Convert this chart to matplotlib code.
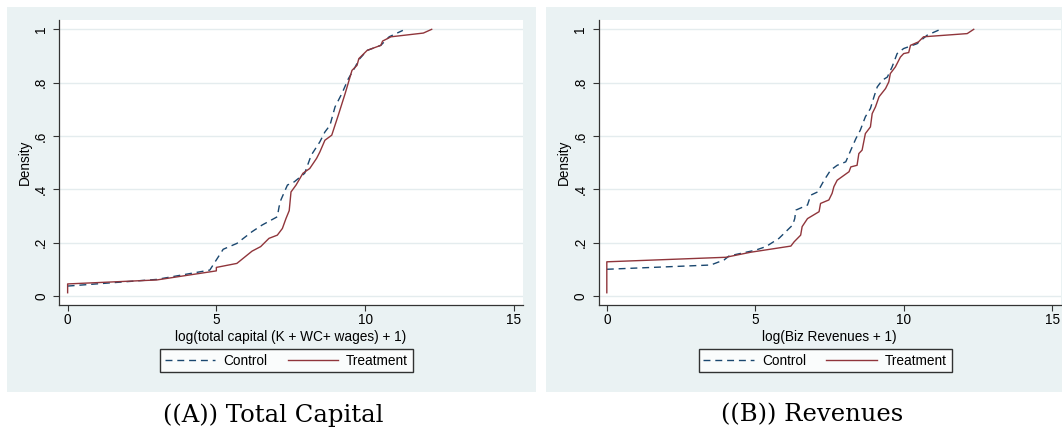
import numpy as np
import matplotlib.pyplot as plt
from matplotlib.patches import Rectangle

plt.rcParams['font.family'] = ['Liberation Sans', 'DejaVu Sans']

# panel A: total capital (cdf points)
capital_control_x = [0, 3.0, 4.78, 5.23, 5.69, 6.2, 6.54, 7.05, 7.11, 7.17, 7.39, 7.62, 7.97, 8.19,
                     8.48, 8.65, 8.82, 8.99, 9.22, 9.44, 9.67, 9.79, 10.07, 10.53, 10.81, 11.27]
capital_control_y = [0.037, 0.062, 0.097, 0.175, 0.197, 0.241, 0.266, 0.297, 0.335, 0.36, 0.416, 0.428,
                     0.46, 0.528, 0.578, 0.615, 0.64, 0.709, 0.759, 0.815, 0.859, 0.886, 0.921, 0.94,
                     0.972, 0.996]
capital_treat_x = [0, 0, 3.0, 5.0, 5.0, 5.69, 6.2, 6.49, 6.77, 7.05, 7.22, 7.34, 7.45, 7.51, 7.68, 7.91,
                   8.14, 8.37, 8.48, 8.65, 8.88, 9.1, 9.33, 9.56, 9.73, 9.79, 10.07, 10.53, 10.59, 10.87,
                   11.96, 12.24]
capital_treat_y = [0.012, 0.045, 0.06, 0.094, 0.107, 0.122, 0.168, 0.185, 0.216, 0.228, 0.253, 0.29,
                   0.32, 0.39, 0.416, 0.46, 0.478, 0.516, 0.54, 0.584, 0.603, 0.678, 0.759, 0.846,
                   0.865, 0.89, 0.921, 0.94, 0.956, 0.972, 0.986, 1.0]

# panel B: revenues
revenue_control_x = [0, 3.5, 3.95, 4.12, 5.02, 5.36, 5.8, 6.26, 6.33, 6.37, 6.76, 6.87, 7.1, 7.32, 7.54,
                     7.76, 8.05, 8.22, 8.39, 8.54, 8.71, 8.88, 9.0, 9.11, 9.28, 9.45, 9.61, 9.78, 10.0,
                     10.45, 10.79, 11.24]
revenue_control_y = [0.1, 0.116, 0.135, 0.15, 0.172, 0.185, 0.216, 0.266, 0.29, 0.322, 0.341, 0.378,
                     0.39, 0.434, 0.472, 0.49, 0.503, 0.547, 0.59, 0.622, 0.672, 0.703, 0.747, 0.784,
                     0.809, 0.821, 0.859, 0.909, 0.928, 0.946, 0.978, 1.0]
revenue_treat_x = [0, 0, 4.01, 4.85, 6.2, 6.31, 6.53, 6.58, 6.76, 7.15, 7.2, 7.48, 7.59, 7.65, 7.76,
                   8.16, 8.22, 8.43, 8.49, 8.6, 8.71, 8.88, 8.94, 9.05, 9.17, 9.39, 9.5, 9.55, 9.72,
                   9.89, 10.0, 10.17, 10.23, 10.5, 10.67, 12.14, 12.36]
revenue_treat_y = [0.012, 0.128, 0.145, 0.164, 0.187, 0.203, 0.228, 0.26, 0.29, 0.316, 0.347, 0.36,
                   0.385, 0.41, 0.434, 0.466, 0.484, 0.49, 0.534, 0.547, 0.609, 0.634, 0.684, 0.709,
                   0.747, 0.778, 0.803, 0.834, 0.859, 0.896, 0.909, 0.913, 0.94, 0.953, 0.972, 0.984,
                   1.0]

x_ticks = [0, 5, 10, 15]
y_ticks = [0, 0.2, 0.4, 0.6, 0.8, 1.0]
y_tick_labels = ['0', '.2', '.4', '.6', '.8', '1']
x_labels = ['log(total capital (K + WC+ wages) + 1)', 'log(Biz Revenues + 1)']
captions = ['((A)) Total Capital', '((B)) Revenues']

NAVY = '#1a476f'
MAROON = '#90353b'
BG = '#eaf2f3'
GRID = '#e4ecee'

W, H = 1062, 434
fig = plt.figure(figsize=(W / 100, H / 100), dpi=100)
fig.patch.set_facecolor('white')

# gray stata graph regions (pixel boxes -> figure fractions)
for x0, x1 in [(7, 536), (546, 1062)]:
    fig.patches.append(Rectangle((x0 / W, 1 - 392 / H), (x1 - x0) / W, (392 - 7) / H,
                                 transform=fig.transFigure, facecolor=BG, edgecolor='none', zorder=-5))

axes_px = [(59.3, 522.7), (598.5, 1061)]
top_px, bot_px = 20, 305
data = [(capital_control_x, capital_control_y, capital_treat_x, capital_treat_y),
        (revenue_control_x, revenue_control_y, revenue_treat_x, revenue_treat_y)]

for i, (l, r) in enumerate(axes_px):
    ax = fig.add_axes([l / W, 1 - bot_px / H, (r - l) / W, (bot_px - top_px) / H])
    ax.set_zorder(2)
    ax.set_facecolor('white')
    cx, cy, tx, ty = data[i]
    ax.plot(cx, cy, color=NAVY, lw=1.0, dashes=(5, 3.5), label='Control', zorder=3)
    ax.plot(tx, ty, color=MAROON, lw=1.0, label='Treatment', zorder=3)

    ax.set_xlim(-0.28, 15.3)
    ax.set_ylim(-0.034, 1.035)
    ax.set_xticks(x_ticks)
    ax.set_yticks(y_ticks)
    ax.set_yticklabels(y_tick_labels, rotation=90, va='center')
    for yv in y_ticks:
        ax.axhline(yv, color=GRID, lw=1.0, zorder=1)
    for side in ['top', 'right']:
        ax.spines[side].set_visible(False)
    for side in ['left', 'bottom']:
        ax.spines[side].set_color('#333333')
        ax.spines[side].set_linewidth(0.9)
    ax.tick_params(axis='both', length=4, width=0.8, color='#333333', labelsize=9.8)
    ax.tick_params(axis='x', pad=2)
    ax.tick_params(axis='y', pad=4)
    ax.set_xlabel(x_labels[i], fontsize=9.8, labelpad=2)
    ax.set_ylabel('Density', fontsize=9.8, labelpad=2)

    leg = ax.legend(loc='upper center', bbox_to_anchor=(0.49, -0.13), ncol=2, fontsize=9.8,
                    frameon=True, fancybox=False, handlelength=3.7, handletextpad=0.6,
                    columnspacing=1.5, borderpad=0.35)
    leg.get_frame().set_edgecolor('black')
    leg.get_frame().set_linewidth(1.0)

    fig.text(((l + r) / 2 - 18) / W, 1 - 415 / H, captions[i], ha='center', va='center',
             fontsize=17.5, family='DejaVu Serif')

fig.savefig('out.png', dpi=100)
